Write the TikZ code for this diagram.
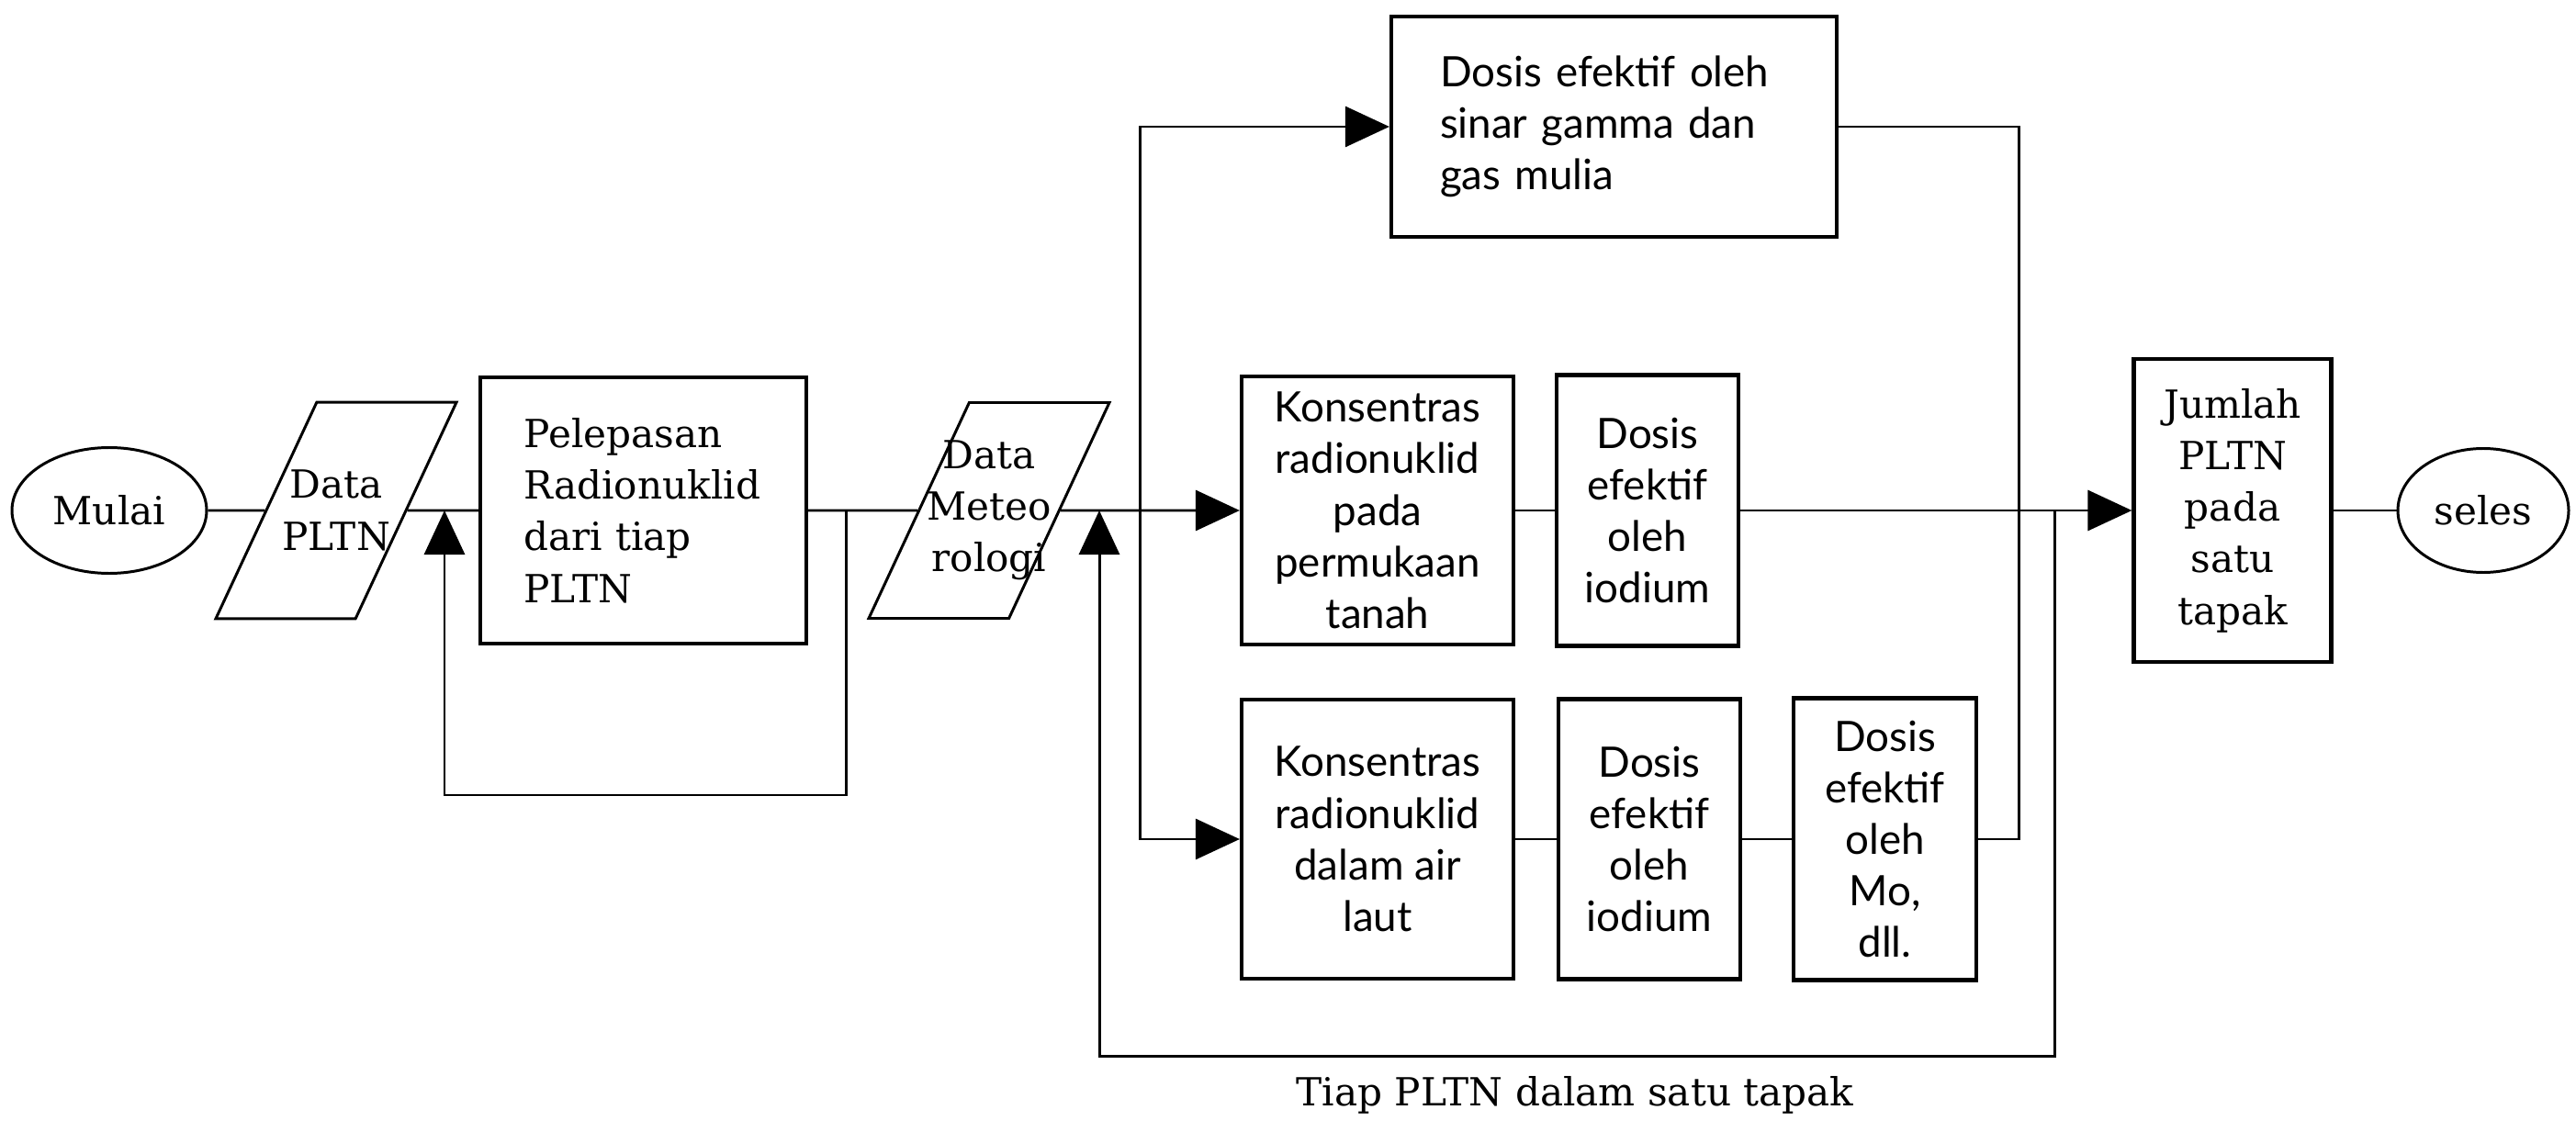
\documentclass[tikz,border=0pt]{standalone}
\usepackage{fontspec}
\setmainfont{DejaVu Serif}
\newfontfamily\gillfont{Lato}
\usetikzlibrary{arrows.meta,shapes.geometric}

\tikzset{
  flow/.style={line width=0.85pt},
  arr/.style={flow,-{Triangle[length=0.48cm,width=0.44cm]}},
  term/.style={draw,ellipse,line width=0.85pt,inner sep=0pt,font=\fontsize{12}{16}\selectfont},
  io/.style={draw,trapezium,trapezium left angle=65,trapezium right angle=115,trapezium stretches body,
    line width=0.85pt,minimum height=2.35cm,minimum width=2.62cm,inner xsep=-0.5cm,align=center,
    font=\fontsize{12}{16}\selectfont},
  proc/.style={draw,rectangle,line width=1.2pt,inner ysep=1pt,align=center,font=\fontsize{12}{16}\selectfont},
  dose/.style={proc,font=\gillfont\fontsize{13}{16}\selectfont}
}

\begin{document}
\begin{tikzpicture}
	\useasboundingbox (0,0) rectangle (28.05,12.2);

	\node[term,minimum width=2.12cm,minimum height=1.37cm] (mulai) at (1.19,6.64) {Mulai};
	\node[io,inner ysep=0.74cm] (pltn) at (3.66,6.64) {Data\\PLTN};
	\node[proc,minimum width=3.55cm,minimum height=2.9cm,align=left,text width=2.6cm,inner xsep=0.475cm] (lepas) at (7.005,6.64) {Pelepasan\\Radionuklid\\dari tiap\\PLTN};
	\node[io,inner ysep=0.41cm] (meteo) at (10.77,6.64) {Data\\Meteo\\rologi};
	\node[dose,minimum width=2.96cm,minimum height=2.92cm] (kons1) at (15,6.64) {Konsentras\\radionuklid\\pada\\permukaan\\tanah};
	\node[dose,minimum width=1.98cm,minimum height=2.95cm] (dosis1) at (17.94,6.64) {Dosis\\efektif\\oleh\\iodium};
	\node[dose,minimum width=4.85cm,minimum height=2.4cm,align=left,text width=3.79cm,inner xsep=0.53cm] (gamma) at (17.575,10.82) {Dosis efektif oleh\\sinar gamma dan\\gas mulia};
	\node[dose,minimum width=2.96cm,minimum height=3.04cm] (kons2) at (15,3.06) {Konsentras\\radionuklid\\dalam air\\laut};
	\node[dose,minimum width=1.98cm,minimum height=3.05cm] (dosis2) at (17.96,3.06) {Dosis\\efektif\\oleh\\iodium};
	\node[dose,minimum width=1.99cm,minimum height=3.07cm] (mo) at (20.525,3.06) {Dosis\\efektif\\oleh\\Mo,\\dll.};
	\node[proc,minimum width=2.15cm,minimum height=3.3cm] (jumlah) at (24.31,6.64) {Jumlah\\PLTN\\pada\\satu\\tapak};
	\node[term,minimum width=1.86cm,minimum height=1.35cm] (seles) at (27.04,6.64) {seles};
	\node[font=\fontsize{12}{16}\selectfont] (ket) at (17.15,0.27) {Tiap PLTN dalam satu tapak};

	% cabang dan gabungan pada garis utama
	\coordinate (j1) at (9.21,6.64);
	\coordinate (m1) at (4.84,6.64);
	\coordinate (m2) at (11.97,6.64);
	\coordinate (cab) at (12.41,6.64);
	\coordinate (j2) at (22.37,6.64);
	\coordinate (r) at ([xshift=0.44cm]mo.east);

	\foreach \a/\b in {mulai/pltn,pltn/lepas,lepas/meteo,kons1/dosis1,jumlah/seles,kons2/dosis2,dosis2/mo}
		\draw[flow] (\a) -- (\b);
	\draw[arr] (meteo) -- (kons1);
	\draw[arr] (dosis1) -- (jumlah);
	\draw[arr] (cab) |- (gamma.west);
	\draw[arr] (cab) |- (kons2.west);
	\draw[flow] (gamma.east) -| (r) -- (mo.east);
	\draw[arr] (j1) -- ++(0,-3.1) -| (m1);
	\draw[arr] (j2) -- ++(0,-5.94) -| (m2);
\end{tikzpicture}
\end{document}
